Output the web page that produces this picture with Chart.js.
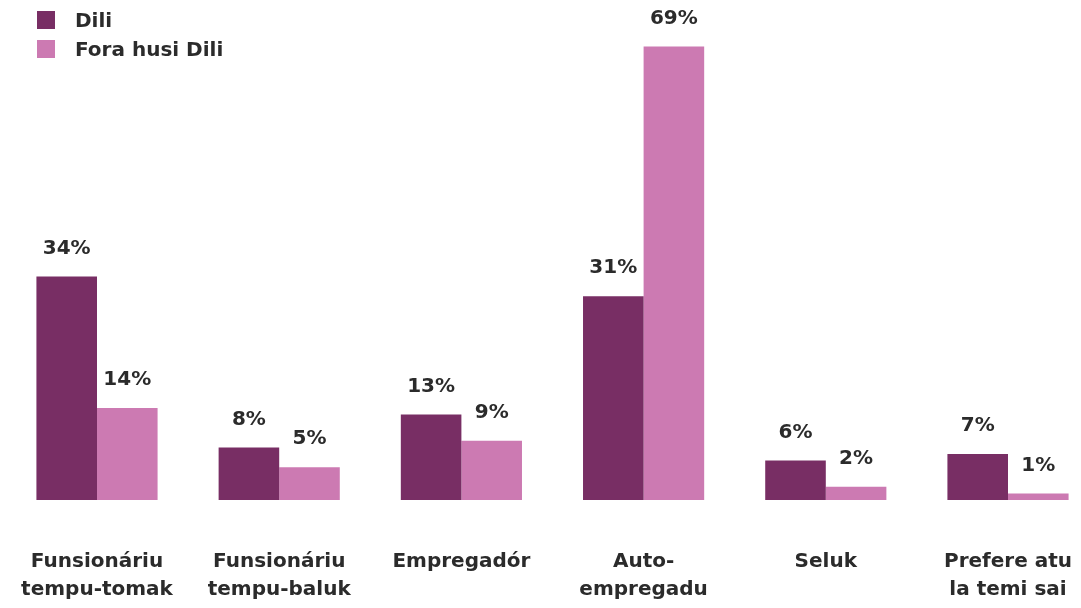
<!DOCTYPE html>
<html>
<head>
<meta charset="utf-8">
<script src="https://cdn.jsdelivr.net/npm/chart.js@4"></script>
<style>
  body { margin: 0; background: #fff; font-family: "DejaVu Sans", sans-serif; }
  #wrap { position: relative; width: 1081px; height: 608px; }
  .legend { position: absolute; left: 37px; top: 5px; color: #2b2b2b; font-weight: 700; font-size: 20px; }
  .legend div { display: flex; align-items: center; height: 29px; }
  .legend span.sw { width: 18px; height: 18px; margin-right: 20px; display: inline-block; }
</style>
</head>
<body>
<div id="wrap">
  <canvas id="chart"></canvas>
  <div class="legend" id="legend"></div>
</div>
<script>
const categories = [
  ['Funsionáriu', 'tempu-tomak'],
  ['Funsionáriu', 'tempu-baluk'],
  'Empregadór',
  ['Auto-', 'empregadu'],
  'Seluk',
  ['Prefere atu', 'la temi sai']
];
const dili = [34, 8, 13, 31, 6, 7];
const foraDili = [14, 5, 9, 69, 2, 1];
const seriesNames = ['Dili', 'Fora husi Dili'];
const seriesColors = ['#782e64', '#cc7ab2'];

// legend (html)
const legendEl = document.getElementById('legend');
seriesNames.forEach((name, i) => {
  const row = document.createElement('div');
  row.innerHTML = '<span class="sw" style="background:' + seriesColors[i] + '"></span>' + name;
  legendEl.appendChild(row);
});

// value labels above bars
const valueLabels = {
  id: 'valueLabels',
  afterDatasetsDraw(chart) {
    const ctx = chart.ctx;
    ctx.save();
    ctx.font = '700 20px "DejaVu Sans"';
    ctx.fillStyle = '#2b2b2b';
    ctx.textAlign = 'center';
    ctx.textBaseline = 'middle';
    chart.data.datasets.forEach((ds, i) => {
      chart.getDatasetMeta(i).data.forEach((bar, j) => {
        ctx.fillText(ds.data[j] + '%', bar.x, bar.y - 28);
      });
    });
    ctx.restore();
  }
};

new Chart(document.getElementById('chart'), {
  type: 'bar',
  data: {
    labels: categories,
    datasets: [
      { label: seriesNames[0], data: dili, backgroundColor: seriesColors[0], clip: false },
      { label: seriesNames[1], data: foraDili, backgroundColor: seriesColors[1], clip: false }
    ]
  },
  options: {
    responsive: true,
    maintainAspectRatio: false,
    animation: false,
    layout: { padding: { left: 97, right: 73, top: 40, bottom: 0 } },
    datasets: { bar: { categoryPercentage: 0.665, barPercentage: 1 } },
    plugins: { legend: { display: false }, tooltip: { enabled: false } },
    scales: {
      x: {
        offset: false,
        grid: { display: false, drawTicks: false },
        border: { display: false },
        ticks: {
          autoSkip: false,
          maxRotation: 0,
          padding: 48,
          color: '#2b2b2b',
          font: { family: 'DejaVu Sans', weight: '700', size: 20, lineHeight: 1.4 }
        },
        afterFit(scale) {
          scale.height = 108;
          scale.paddingLeft = 0;
          scale.paddingRight = 0;
        }
      },
      y: { display: false, min: 0, max: 70 }
    }
  },
  plugins: [valueLabels]
});
</script>
</body>
</html>
